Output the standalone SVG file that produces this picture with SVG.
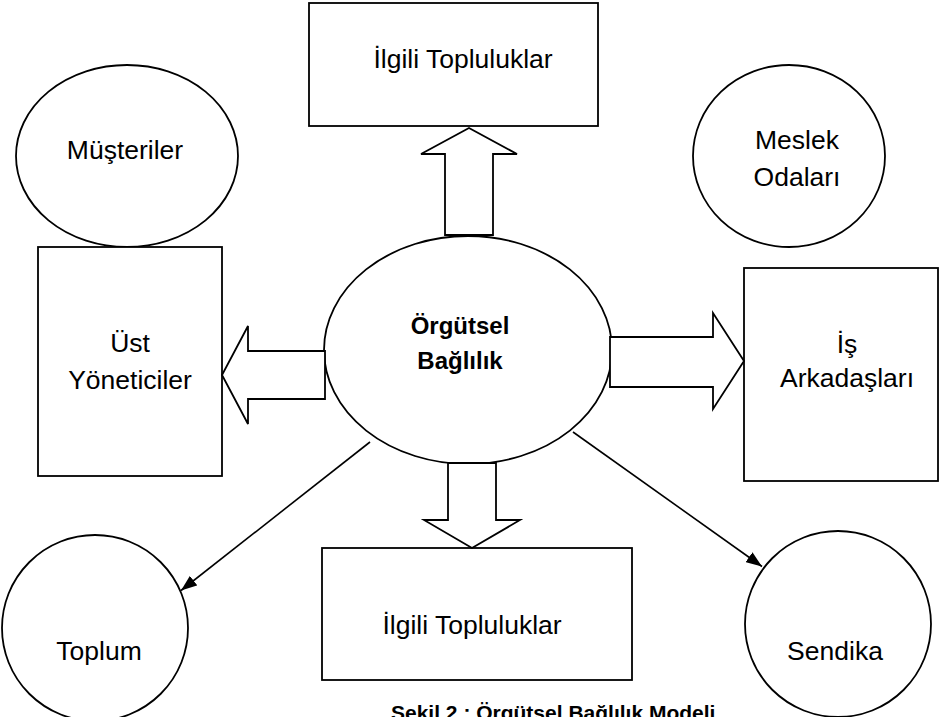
<svg xmlns="http://www.w3.org/2000/svg" width="939" height="717" viewBox="0 0 939 717">
<defs>
<style>
.s{fill:#fff;stroke:#000;stroke-width:1.8}
.t{font-family:"Liberation Sans",Arial,sans-serif;font-size:26.5px;fill:#000;text-anchor:middle}
.b{font-weight:bold}
.c{fill:none;stroke:#000;stroke-width:1.6}
</style>
<marker id="ah" viewBox="0 0 16 12" refX="16" refY="6" markerWidth="16" markerHeight="12" markerUnits="userSpaceOnUse" orient="auto">
<path d="M0,0 L16,6 L0,12 Z" fill="#000"/>
</marker>
</defs>
<rect width="939" height="717" fill="#fff"/>
<g id="ilgili-top"><rect class="s" x="309" y="3" width="289" height="123"/><text class="t" x="463" y="68">İlgili Topluluklar</text></g>
<g id="musteriler"><ellipse class="s" cx="127" cy="156" rx="111" ry="91"/><text class="t" x="125" y="159">Müşteriler</text></g>
<g id="meslek"><ellipse class="s" cx="789" cy="156" rx="96" ry="91"/><text class="t" x="797" y="149">Meslek</text><text class="t" x="797" y="186">Odaları</text></g>
<g id="ust"><rect class="s" x="38" y="247" width="184" height="229"/><text class="t" x="130" y="352">Üst</text><text class="t" x="130" y="389">Yöneticiler</text></g>
<g id="is"><rect class="s" x="744" y="268" width="194" height="213"/><text class="t" x="847" y="353">İş</text><text class="t" x="847" y="387">Arkadaşları</text></g>
<g id="toplum"><circle class="s" cx="95" cy="628" r="93"/><text class="t" x="99" y="660">Toplum</text></g>
<g id="ilgili-bottom"><rect class="s" x="322" y="548" width="310" height="132"/><text class="t" x="472" y="634">İlgili Topluluklar</text></g>
<g id="sendika"><circle class="s" cx="838" cy="624" r="93"/><text class="t" x="835" y="660">Sendika</text></g>
<g id="orgutsel"><ellipse class="s" cx="468" cy="350" rx="144" ry="114"/><text class="t b" x="460" y="334" style="font-size:24px">Örgütsel</text><text class="t b" x="460" y="369" style="font-size:24px">Bağlılık</text></g>
<g id="connectors">
<polygon class="s" points="445,235 445,154 421,154 469,128 517,154 493,154 493,235"/>
<polygon class="s" points="325,351 248,351 248,326 222,375 248,424 248,399 325,399"/>
<polygon class="s" points="610,337 713,337 713,313 744,361 713,409 713,387 610,387"/>
<polygon class="s" points="448,463 448,520 424,520 472,548 520,520 496,520 496,463"/>
<line class="c" x1="370" y1="442" x2="181" y2="590.5" marker-end="url(#ah)"/>
<line class="c" x1="573" y1="432" x2="762" y2="566.5" marker-end="url(#ah)"/>
</g>
<text class="b" x="391" y="720" style="font-family:'Liberation Sans',Arial,sans-serif;font-size:21px">Şekil 2 : Örgütsel Bağlılık Modeli</text>
</svg>
